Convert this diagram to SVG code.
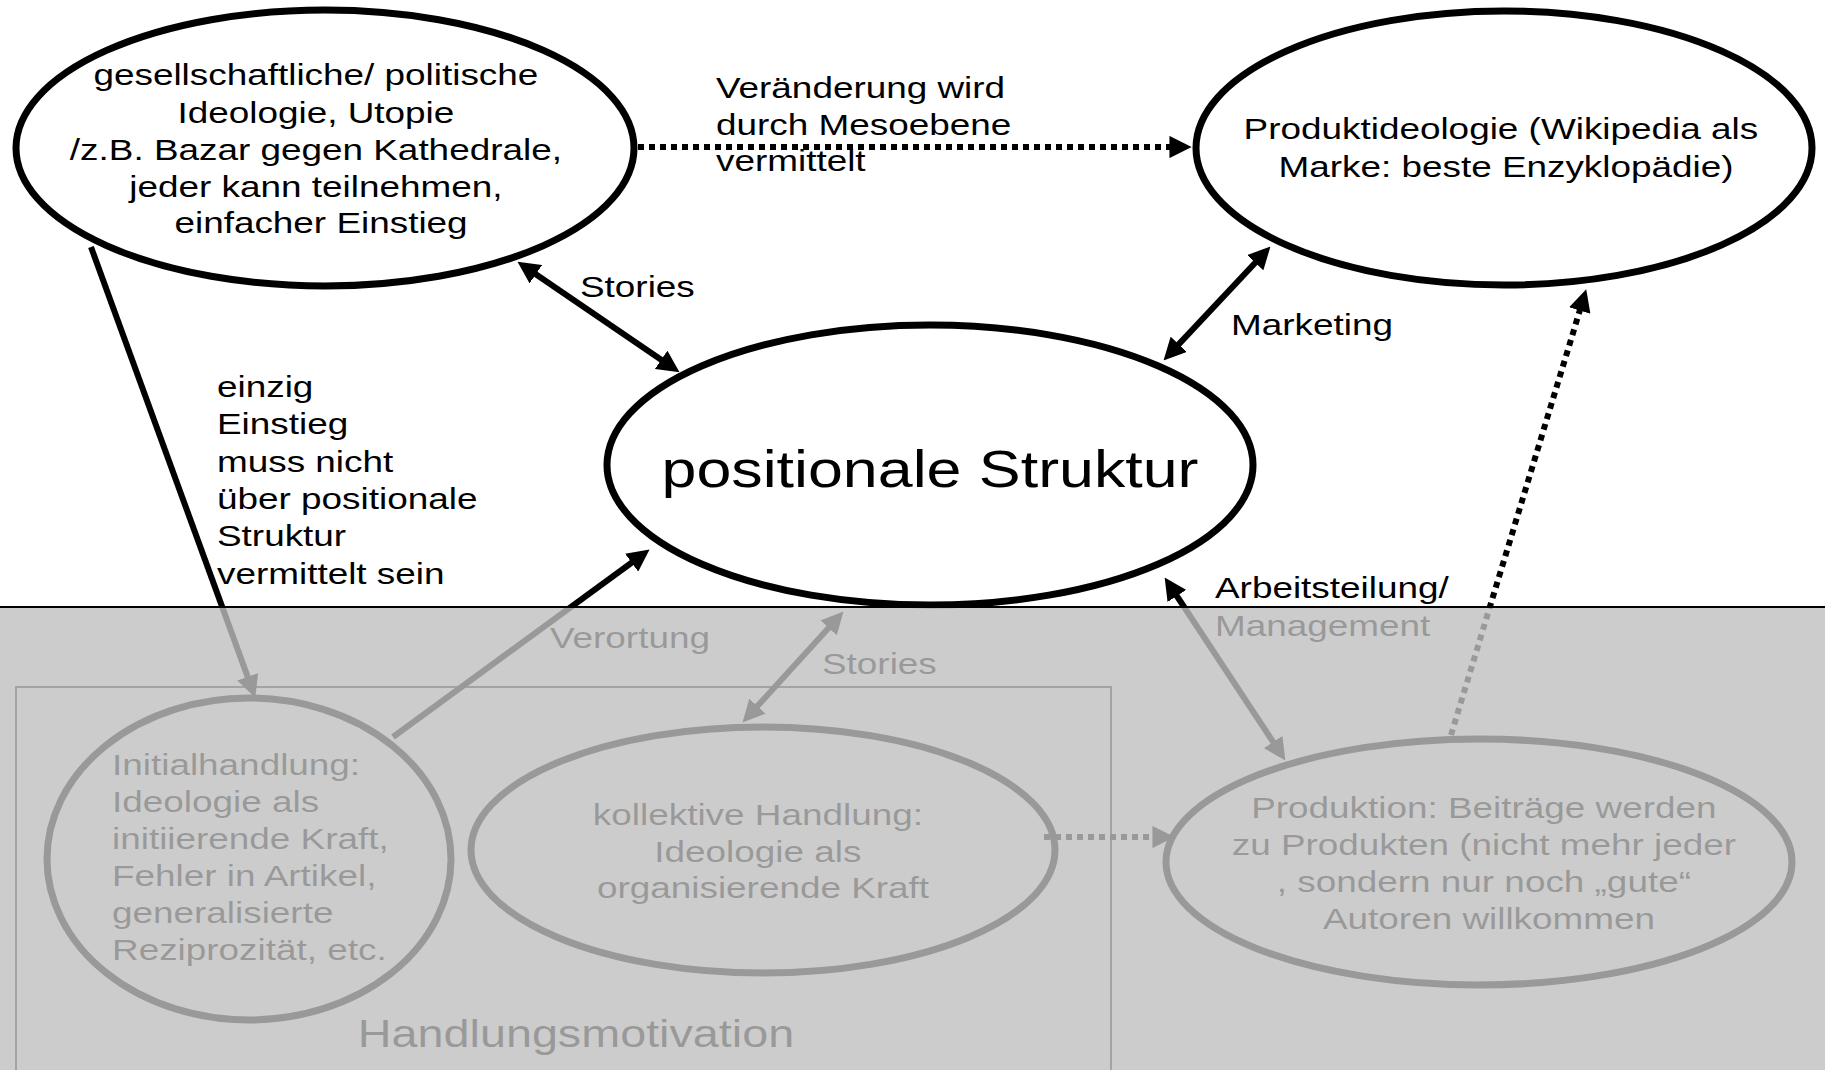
<svg xmlns="http://www.w3.org/2000/svg" width="1825" height="1070" viewBox="0 0 1825 1070">
  <defs>
    <style>
      text { font-family: "Liberation Sans", Arial, sans-serif; font-size: 30px; fill: #000; }
      .big { font-size: 51px; }
      .frame-label { font-size: 38px; }
      .node ellipse { fill: #fff; stroke: #000; stroke-width: 7; }
      .edge { fill: none; stroke: #000; stroke-width: 6; }
      .dotted { stroke-dasharray: 6 5; }
      .arrow-end { marker-end: url(#head); }
      .arrow-both { marker-start: url(#head); marker-end: url(#head); }
    </style>
    <marker id="head" viewBox="0 0 10 10" refX="7" refY="5" markerWidth="3.7" markerHeight="3.7" markerUnits="strokeWidth" orient="auto-start-reverse">
      <path d="M0,0 L10,5 L0,10 z" fill="#000"/>
    </marker>
  </defs>

  <rect x="0" y="0" width="1825" height="1070" fill="#fff"/>

  <!-- container box for the action-motivation level -->
  <g id="handlungsmotivation">
    <rect x="16" y="687" width="1095" height="400" fill="none" stroke="#333" stroke-width="2"/>
    <text class="frame-label" transform="translate(576 0) scale(1.23 1)" text-anchor="middle"><tspan x="0" y="1047">Handlungsmotivation</tspan></text>
  </g>

  <!-- nodes -->
  <g id="ideologie" class="node">
    <ellipse cx="325" cy="148" rx="309" ry="138"/>
    <text transform="translate(321 0) scale(1.23 1)" text-anchor="middle">
      <tspan x="0" y="85">gesellschaftliche/ politische</tspan>
      <tspan x="0" y="123">Ideologie, Utopie</tspan>
      <tspan x="0" y="160">/z.B. Bazar gegen Kathedrale,</tspan>
      <tspan x="0" y="197">jeder kann teilnehmen,</tspan>
      <tspan x="0" y="233">einfacher Einstieg</tspan>
    </text>
  </g>

  <g id="produktideologie" class="node">
    <ellipse cx="1504" cy="148" rx="308" ry="137"/>
    <text transform="translate(1506 0) scale(1.23 1)" text-anchor="middle">
      <tspan x="0" y="139">Produktideologie (Wikipedia als</tspan>
      <tspan x="0" y="177">Marke: beste Enzyklopädie)</tspan>
    </text>
  </g>

  <g id="positionale-struktur" class="node">
    <ellipse cx="930" cy="465" rx="323" ry="140"/>
    <text class="big" transform="translate(930 0) scale(1.23 1)" text-anchor="middle"><tspan x="0" y="487">positionale Struktur</tspan></text>
  </g>

  <g id="initialhandlung" class="node">
    <ellipse cx="249" cy="859" rx="202" ry="161"/>
    <text transform="translate(112 0) scale(1.23 1)">
      <tspan x="0" y="775">Initialhandlung:</tspan>
      <tspan x="0" y="812">Ideologie als</tspan>
      <tspan x="0" y="849">initiierende Kraft,</tspan>
      <tspan x="0" y="886">Fehler in Artikel,</tspan>
      <tspan x="0" y="923">generalisierte</tspan>
      <tspan x="0" y="960">Reziprozität, etc.</tspan>
    </text>
  </g>

  <g id="kollektive-handlung" class="node">
    <ellipse cx="763" cy="850" rx="292" ry="123"/>
    <text transform="translate(763 0) scale(1.23 1)" text-anchor="middle">
      <tspan x="0" y="825">kollektive Handlung:</tspan>
      <tspan x="0" y="862">Ideologie als</tspan>
      <tspan x="0" y="898">organisierende Kraft</tspan>
    </text>
  </g>

  <g id="produktion" class="node">
    <ellipse cx="1479" cy="862" rx="313" ry="123"/>
    <text transform="translate(1489 0) scale(1.23 1)" text-anchor="middle">
      <tspan x="0" y="818">Produktion: Beiträge werden</tspan>
      <tspan x="0" y="855">zu Produkten (nicht mehr jeder</tspan>
      <tspan x="0" y="892">, sondern nur noch „gute“</tspan>
      <tspan x="0" y="929">Autoren willkommen</tspan>
    </text>
  </g>

  <!-- connectors and their labels -->
  <g id="connectors">
    <line class="edge dotted arrow-end" x1="638" y1="147" x2="1185" y2="147"/>
    <line class="edge arrow-both" x1="523" y1="265.4" x2="674" y2="368.6"/>
    <line class="edge arrow-both" x1="1168.1" y1="355.6" x2="1265.9" y2="251.4"/>
    <line class="edge arrow-end" x1="91" y1="247" x2="253" y2="691.4"/>
    <line class="edge arrow-end" x1="393" y1="737" x2="644.2" y2="553.5"/>
    <line class="edge arrow-both" x1="839" y1="616.4" x2="747" y2="717.6"/>
    <line class="edge arrow-both" x1="1168.3" y1="583" x2="1281.7" y2="755"/>
    <line class="edge dotted arrow-end" x1="1451" y1="735" x2="1584.3" y2="295.7"/>
    <line class="edge dotted arrow-end" x1="1044" y1="837" x2="1168" y2="837"/>

    <text transform="translate(716 0) scale(1.23 1)">
      <tspan x="0" y="98">Veränderung wird</tspan>
      <tspan x="0" y="135">durch Mesoebene</tspan>
      <tspan x="0" y="171">vermittelt</tspan>
    </text>
    <text transform="translate(580 0) scale(1.23 1)"><tspan x="0" y="297">Stories</tspan></text>
    <text transform="translate(1231 0) scale(1.23 1)"><tspan x="0" y="335">Marketing</tspan></text>
    <text transform="translate(217 0) scale(1.23 1)">
      <tspan x="0" y="397">einzig</tspan>
      <tspan x="0" y="434">Einstieg</tspan>
      <tspan x="0" y="472">muss nicht</tspan>
      <tspan x="0" y="509">über positionale</tspan>
      <tspan x="0" y="546">Struktur</tspan>
      <tspan x="0" y="584">vermittelt sein</tspan>
    </text>
    <text transform="translate(550 0) scale(1.23 1)"><tspan x="0" y="648">Verortung</tspan></text>
    <text transform="translate(822 0) scale(1.23 1)"><tspan x="0" y="674">Stories</tspan></text>
    <text transform="translate(1215 0) scale(1.23 1)">
      <tspan x="0" y="598">Arbeitsteilung/</tspan>
      <tspan x="0" y="636">Management</tspan>
    </text>
  </g>

  <!-- grey veil over the lower (action) level -->
  <rect x="0" y="607" width="1825" height="463" fill="#bfbfbf" fill-opacity="0.8"/>
  <line x1="0" y1="607" x2="1825" y2="607" stroke="#000" stroke-width="2"/>
</svg>
